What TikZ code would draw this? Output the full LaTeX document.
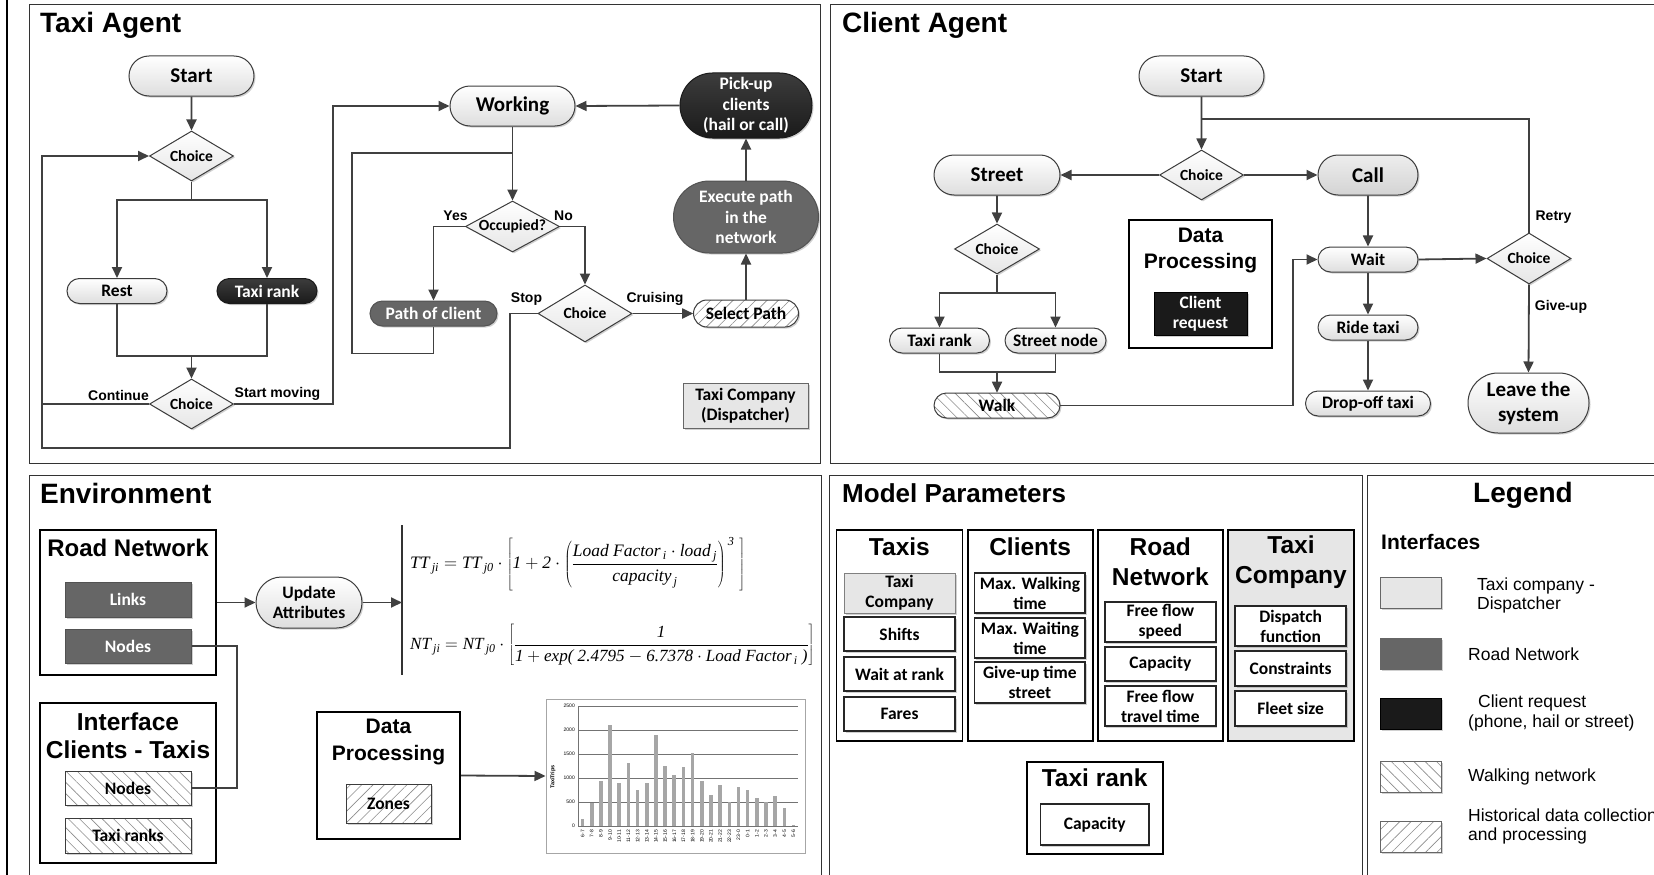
\documentclass[tikz,border=0pt]{standalone}
\usepackage[no-math]{fontspec}
\usepackage{graphicx}
\setmainfont{Liberation Sans}
\newfontfamily\cfont{Carlito}
\newfontfamily\tnr{Liberation Serif}
\usetikzlibrary{arrows.meta,shapes.geometric,shapes.misc,patterns.meta,shadows,calc}
\definecolor{lc}{RGB}{64,64,64}
\definecolor{dg}{RGB}{102,102,102}
\definecolor{bk}{RGB}{26,26,26}
\definecolor{lg}{RGB}{230,230,230}
\definecolor{bd}{RGB}{60,60,60}
\newcommand{\fs}[2]{\fontsize{#1}{#2}\selectfont}
\newcommand{\mi}[1]{\hbox{\tnr\itshape #1}}
\newcommand{\ms}[1]{\hbox{\kern2.5pt\tnr\itshape\fs{14}{15}#1}}
\tikzset{
  sz/.style 2 args={minimum width=#1pt,minimum height=#2pt},
  shd/.style={drop shadow={shadow xshift=1.5pt,shadow yshift=-1.5pt,opacity=0.3,fill=black!60}},
  panel/.style={draw=black!80,line width=1pt},
  ptitle/.style={anchor=west,inner sep=0pt,font=\bfseries\fs{28}{32}},
  btitle/.style={inner sep=0pt,align=center,font=\bfseries\fs{24}{29}},
  elab/.style={inner sep=0pt,font=\bfseries\fs{14}{16}},
  conn/.style={draw=lc,line width=1.8pt},
  arr/.style={conn,-{Triangle[length=11pt,width=10pt]}},
  nfont/.style={font=\cfont\bfseries\fs{17.5}{20.5}},
  big/.style={font=\cfont\bfseries\fs{21}{25}},
  rr/.style={rounded rectangle,draw=bd,line width=1pt,shd,inner sep=0pt,align=center,nfont},
  term/.style={rr,top color=white,bottom color=black!13},
  blk/.style={rr,top color=bk!85,bottom color=bk,text=white,draw=bk},
  dgr/.style={rr,top color=dg,bottom color=dg,text=white,draw=dg!80!black},
  hatchB/.style={preaction={fill=white},pattern={Lines[angle=-45,distance=8pt,line width=0.6pt]},pattern color=black!45},
  hatchF/.style={preaction={fill=white},pattern={Lines[angle=45,distance=8pt,line width=0.6pt]},pattern color=black!45},
  dia/.style={diamond,aspect=1.7,draw=bd,line width=1pt,top color=white,bottom color=black!10,shd,inner sep=0pt,font=\cfont\bfseries\fs{15.5}{18}},
  sq/.style={rectangle,draw=bd,line width=1pt,shd,inner sep=0pt,align=center,nfont},
  obox/.style={rectangle,draw=black,line width=2pt,fill=white,inner sep=0pt},
  pcol/.style={rectangle,draw=black,line width=1.8pt,fill=white,inner sep=0pt},
  ptitle2/.style={inner sep=0pt,align=center,font=\bfseries\fs{24.5}{30}},
  pitem/.style={rectangle,draw=black!85,line width=1.5pt,fill=white,shd,inner sep=0pt,align=center,font=\cfont\bfseries\fs{17.5}{20}},
  sw/.style={rectangle,draw=black!60,line width=1pt,shd,minimum width=61pt,minimum height=31pt,inner sep=0pt},
  ltext/.style={anchor=west,inner sep=0pt,align=left,font=\fs{17.5}{19.5}},
  eqn/.style={anchor=west,inner sep=0pt,font=\fs{20}{24}},
}
\begin{document}
\begin{tikzpicture}[x=1pt,y=-1pt]
\useasboundingbox (0,0) rectangle (1654,875);
\clip (0,0) rectangle (1654,875);
\fill[white] (0,0) rectangle (1654,875);
\draw[line width=2.5pt,black] (7,0) -- (7,875);
% panels
\draw[panel] (29,5) rectangle (820,463);
\draw[panel] (830,5) rectangle (1690,463);
\draw[panel] (29,475) rectangle (821,900);
\draw[panel] (829,475) rectangle (1362,900);
\draw[panel] (1367,475) rectangle (1690,900);

% ================= Taxi Agent =================
\node[ptitle] (tTitle) at (40,25) {Taxi Agent};
\node[term,big,sz={125}{40}] (tStart) at (191.5,76) {Start};
\node[dia,sz={84}{50}] (tCh1) at (191.5,156) {Choice};
\node[term,sz={100}{25}] (tRest) at (117,291) {Rest};
\node[blk,sz={100}{25}] (tRank) at (267,291) {Taxi rank};
\node[dia,sz={84}{50}] (tCh2) at (191.5,404) {Choice};
\node[term,big,sz={125}{40}] (tWork) at (512.5,106) {Working};
\node[blk,sz={132}{65}] (tPick) at (746,105.5) {Pick-up\\clients\\(hail or call)};
\node[dgr,sz={145}{72}] (tExec) at (746,217) {Execute path\\in the\\network};
\node[rr,hatchF,sz={105}{27}] (tSel) at (746,313.5) {Select Path};
\node[dia,aspect=1.9,sz={94}{51}] (tOcc) at (512.5,226.5) {Occupied?};
\node[dgr,sz={127}{25}] (tPath) at (433.5,313.5) {Path of client};
\node[dia,aspect=1.65,sz={94}{57}] (tCh3) at (585,313.5) {Choice};
\node[sq,fill=lg,draw=black!60,sz={125}{45}] (tTC) at (745.5,405.5) {Taxi Company\\(Dispatcher)};

\draw[arr] (tStart) -- (tCh1);
\coordinate (tj1) at (191.5,200);
\draw[conn] (tCh1.south) -- (tj1);
\draw[arr] (tj1) -| (tRest.north);
\draw[arr] (tj1) -| (tRank.north);
\coordinate (tj2) at (191.5,356);
\draw[conn] (tRest.south) -- (tRest.south |- tj2) -- (tRank.south |- tj2) -- (tRank.south);
\draw[arr] (tj2) -- (tCh2.north);
\coordinate (tLtop) at (42,156);
\draw[arr] (tCh2.west) -| (tLtop) -- (tCh1.west);
\node[elab] (lCont) at (118.5,395) {Continue};
\coordinate (tSM) at (333,250);
\draw[arr] (tCh2.east) -| (tSM) |- (tWork.west);
\node[elab] (lSM) at (277.5,394) {Start moving};
\draw[arr] (tWork.south) -- (tOcc.north);
\coordinate (tjW) at (512.5,153);
\coordinate (tPL) at (352,250);
\draw[conn] (tPath.south) -- ++(0,27) -| (tPL) |- (tjW);
\draw[arr] (tOcc.west) -| (tPath.north);
\node[elab] (lYes) at (455.5,216) {Yes};
\draw[arr] (tOcc.east) -| (tCh3.north);
\node[elab] (lNo) at (563.5,216) {No};
\draw[arr] (tCh3.east) -- (tSel.west);
\node[elab] (lCru) at (655,299) {Cruising};
\coordinate (tSB) at (510,448);
\coordinate (tLB) at (42,448);
\draw[conn] (tCh3.west) -| (tSB) -- (tLB) -- (tLtop);
\node[elab] (lStop) at (526.5,299) {Stop};
\draw[arr] (tSel.north) -- (tExec.south);
\draw[arr] (tExec.north) -- (tPick.south);
\draw[arr] (tPick.west) -- (tWork.east);

% ================= Client Agent =================
\node[ptitle] (cTitle) at (842,25) {Client Agent};
\node[term,big,sz={125}{40}] (cStart) at (1201.5,76) {Start};
\node[dia,sz={84}{50}] (cCh) at (1201.5,175) {Choice};
\node[term,big,sz={126}{40}] (cStreet) at (997,175) {Street};
\node[rr,big,top color=black!7,bottom color=black!17,sz={100}{40}] (cCall) at (1368,175) {Call};
\node[dia,sz={85}{50}] (cCh2) at (997,249) {Choice};
\node[term,sz={100}{25}] (cRank) at (939.5,340.5) {Taxi rank};
\node[term,sz={101}{25}] (cSN) at (1055.5,340.5) {Street node};
\node[rr,hatchB,sz={126}{25}] (cWalk) at (997,405.5) {Walk};
\node[term,sz={100}{25}] (cWait) at (1368,259.5) {Wait};
\node[term,sz={100}{25}] (cRide) at (1368,327.5) {Ride taxi};
\node[term,sz={125}{25}] (cDrop) at (1368,403.5) {Drop-off taxi};
\node[dia,sz={84}{51}] (cCh3) at (1529,258.5) {Choice};
\node[term,font=\cfont\bfseries\fs{21}{25},sz={121}{60}] (cLeave) at (1528.5,403) {Leave the\\system};
\node[obox,sz={143}{128}] (cDP) at (1200.5,284) {};
\node[btitle,font=\bfseries\fs{21}{26}] (cDPt) at (1200.5,250) {Data\\Processing};
\node[sq,fill=bk,draw=black,text=white,sz={93}{43}] (cReq) at (1200.5,313.5) {Client\\request};

\draw[arr] (cStart) -- (cCh);
\coordinate (cj) at (1201.5,119);
\draw[conn] (cj) -| (cCh3.north);
\node[elab] (lRetry) at (1553.5,217) {Retry};
\draw[arr] (cCh.west) -- (cStreet.east);
\draw[arr] (cCh.east) -- (cCall.west);
\draw[arr] (cStreet) -- (cCh2);
\coordinate (cj2) at (997,293);
\draw[conn] (cCh2.south) -- (cj2);
\draw[arr] (cj2) -| (cRank.north);
\draw[arr] (cj2) -| (cSN.north);
\coordinate (cj3) at (997,372);
\draw[conn] (cRank.south) -- (cRank.south |- cj3) -- (cSN.south |- cj3) -- (cSN.south);
\draw[arr] (cj3) -- (cWalk.north);
\coordinate (cw) at (1293,330);
\draw[arr] (cWalk.east) -| (cw) |- (cWait.west);
\draw[arr] (cCall) -- (cWait);
\draw[arr] (cWait) -- (cRide);
\draw[arr] (cRide) -- (cDrop);
\draw[arr] (cWait.east) -- (cCh3.west);
\draw[arr] (cCh3.south) -- (cLeave.north);
\node[elab] (lGive) at (1561,307) {Give-up};

% ================= Environment =================
\node[ptitle] (eTitle) at (40,493) {Environment};
\node[obox,sz={176}{145}] (eRN) at (128,602.5) {};
\node[btitle] (eRNt) at (128,548) {Road Network};
\node[sq,fill=dg,draw=dg!80!black,text=white,sz={126}{35}] (eLinks) at (128,599.5) {Links};
\node[sq,fill=dg,draw=dg!80!black,text=white,sz={126}{34}] (eNodes) at (128,646) {Nodes};
\node[obox,sz={176}{160}] (eIF) at (128,783) {};
\node[btitle,font=\bfseries\fs{24.5}{28}] (eIFt) at (128,736) {Interface\\Clients - Taxis};
\node[sq,hatchB,sz={126}{34}] (eINodes) at (128,788) {Nodes};
\node[sq,hatchB,sz={126}{35}] (eIRanks) at (128,835.5) {Taxi ranks};
\coordinate (ec) at (237,700);
\draw[conn,line width=1.4pt] (eNodes.east) -| (ec) |- (eINodes.east);
\node[term,sz={106}{51}] (eUpd) at (309,602.5) {Update\\Attributes};
\draw[arr] (eRN.east) -- (eUpd.west);
\draw[line width=1.5pt,black!80] (402,525) -- (402,675);
\coordinate (eBar) at (402,602.5);
\draw[arr] (eUpd.east) -- (eBar);
\node[eqn] (eq1) at (410,564) {\resizebox{335pt}{!}{$\displaystyle \mi{TT}_{\ms{ji}}=\mi{TT}_{\ms{j0}}\cdot\left[\mi{1}+\mi{2}\cdot\left(\frac{\mi{Load\ Factor}_{\ms{i}}\cdot\mi{load}_{\ms{j}}}{\mi{capacity}_{\ms{j}}}\right)^{\ms{3}}\;\right]$}};
\node[eqn] (eq2) at (410,645) {\resizebox{404pt}{!}{$\displaystyle \mi{NT}_{\ms{ji}}=\mi{NT}_{\ms{j0}}\cdot\left[\frac{\mi{1}}{\mi{1}+\mi{exp(\ 2.4795}-\mi{6.7378}\cdot\mi{Load\ Factor}_{\ms{i}}\mi{\ )}}\right]$}};
\node[obox,sz={143}{127}] (eDP) at (388.5,775.5) {};
\node[btitle,font=\bfseries\fs{21}{27}] (eDPt) at (388.5,741.5) {Data\\Processing};
\node[sq,hatchF,sz={85}{39}] (eZones) at (388.5,803.5) {Zones};
% chart
\node[draw=black!35,line width=1pt,fill=white,sz={259}{154},inner sep=0pt] (chart) at (675.5,776) {};
\draw[arr] (eDP.east) -- (chart.west);
\foreach \v in {0,500,1000,1500,2000,2500}{
  \draw[black!55,line width=0.7pt] (578,{826-0.048*\v}) -- (798,{826-0.048*\v});
  \node[anchor=east,inner sep=0pt,font=\fs{5}{6}] at (575,{826-0.048*\v}) {\v};
}
\draw[black!55,line width=0.7pt] (578,706) -- (578,826);
\foreach \v [count=\i from 0] in {150,480,940,2100,890,1320,750,890,1890,1260,1070,1230,1520,940,640,850,500,810,750,590,500,620,380,20}{
  \fill[black!35] ({578+9.17*(\i+0.5)-1.8},826) rectangle ({578+9.17*(\i+0.5)+1.8},{826-0.048*\v});
}
\foreach \l [count=\i from 0] in {6-7,7-8,8-9,9-10,10-11,11-12,12-13,13-14,14-15,15-16,16-17,17-18,18-19,19-20,20-21,21-22,22-23,23-0,0-1,1-2,2-3,3-4,4-5,5-6}{
  \node[rotate=90,anchor=east,inner sep=0pt,font=\fs{5}{6}] at ({578+9.17*(\i+0.5)},830) {\l};
}
\node[rotate=90,inner sep=0pt,font=\bfseries\fs{5.5}{6}] (yl) at (553,777) {TaxiTrips};

% ================= Model Parameters =================
\node[ptitle,font=\bfseries\fs{26}{30}] (mTitle) at (842,493) {Model Parameters};
\node[pcol,sz={126}{211}] (mTaxis) at (899.4,635.5) {};
\node[pcol,sz={125}{211}] (mClients) at (1030.1,635.5) {};
\node[pcol,sz={125}{211}] (mRoad) at (1160.3,635.5) {};
\node[pcol,fill=lg,sz={126}{211}] (mTC) at (1291,635.5) {};
\node[ptitle2] (mTaxist) at (899.4,547) {Taxis};
\node[ptitle2] (mClientst) at (1030.1,547) {Clients};
\node[ptitle2] (mRoadt) at (1160.3,562) {Road\\Network};
\node[ptitle2] (mTCt) at (1291,562) {Taxi\\Company};
\node[pitem,fill=lg,draw=black!50,line width=1pt,sz={111}{40}] (mT1) at (899.5,593) {Taxi\\Company};
\node[pitem,sz={111}{34}] (mT2) at (899.5,634) {Shifts};
\node[pitem,sz={111}{34}] (mT3) at (899.5,674) {Wait at rank};
\node[pitem,sz={111}{34}] (mT4) at (899.5,714) {Fares};
\node[pitem,sz={110.5}{40}] (mC1) at (1029.9,593) {Max. Walking\\time};
\node[pitem,sz={110.5}{40}] (mC2) at (1029.9,638) {Max. Waiting\\time};
\node[pitem,sz={110.5}{41}] (mC3) at (1029.9,682.5) {Give-up time\\street};
\node[pitem,sz={111}{40}] (mR1) at (1160.4,622) {Free flow\\speed};
\node[pitem,sz={111}{34}] (mR2) at (1160.4,664) {Capacity};
\node[pitem,sz={111}{40}] (mR3) at (1160.4,706) {Free flow\\travel time};
\node[pitem,sz={111}{40}] (mK1) at (1290.6,626) {Dispatch\\function};
\node[pitem,sz={111}{35}] (mK2) at (1290.6,668.5) {Constraints};
\node[pitem,sz={111}{35}] (mK3) at (1290.6,708.5) {Fleet size};
\node[pcol,sz={136}{92}] (mRank) at (1094.7,808) {};
\node[ptitle2] (mRankt) at (1094.7,778) {Taxi rank};
\node[pitem,sz={108.5}{41}] (mCap) at (1094.7,824.5) {Capacity};

% ================= Legend =================
\node[inner sep=0pt,font=\bfseries\fs{28}{32}] (lgTitle) at (1523,495) {Legend};
\node[anchor=west,inner sep=0pt,font=\bfseries\fs{21}{25}] (lgIf) at (1381,542) {Interfaces};
\node[sw,fill=lg] (sw1) at (1410.5,592.5) {};
\node[sw,fill=dg] (sw2) at (1410.5,654) {};
\node[sw,fill=bk,draw=black] (sw3) at (1410.5,714) {};
\node[sw,hatchB] (sw4) at (1410.5,777) {};
\node[sw,hatchF] (sw5) at (1410.5,837) {};
\node[ltext] (lt1) at (1477,595.5) {Taxi company -\\Dispatcher};
\node[ltext] (lt2) at (1468,654) {Road Network};
\node[ltext] (lt3) at (1468,713) {\hspace*{10pt}Client request\\(phone, hail or street)};
\node[ltext] (lt4) at (1468,777) {Walking network};
\node[ltext] (lt5) at (1468,826.5) {Historical data collection\\and processing};
\end{tikzpicture}
\end{document}
